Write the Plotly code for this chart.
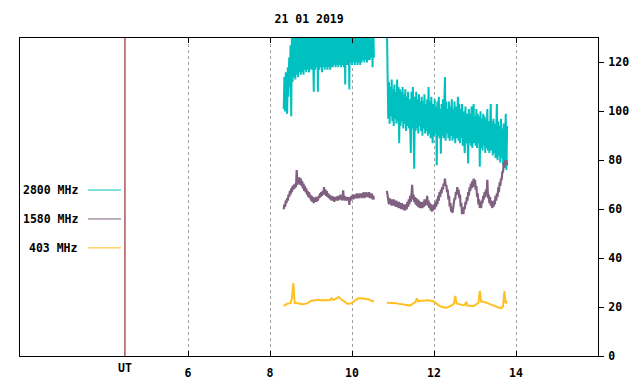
import plotly.graph_objects as go

TITLE = "21 01 2019"
SERIES_NAMES = ["2800 MHz", "1580 MHz", "403 MHz"]
COLORS = ["#00C0C0", "#806080", "#FFC020"]

# sampling: minutes of day (UT); two observing segments
SEG1_START_MIN = 500
SEG2_START_MIN = 651
STEP_FAST = 1   # minutes (2800, 1580)
STEP_SLOW = 2   # minutes (403)

X_TICKS = [6, 8, 10, 12, 14]
UT_POS = 4.46
X_RANGE = [1.9, 16]
Y_RANGE = [0, 130]
Y_TICKS = [0, 20, 40, 60, 80, 100, 120]

f2800_seg1 = [
    101, 114, 100, 116, 103, 99, 118, 106, 122, 110,
    127, 98, 132, 112, 136, 114, 138, 113, 140, 115,
    137, 114, 141, 116, 139, 115, 142, 116, 138, 115,
    140, 117, 143, 116, 139, 117, 141, 116, 119, 120,
    142, 117, 138, 116, 108, 140, 117, 143, 118, 139,
    108, 141, 117, 138, 118, 142, 116, 140, 118, 137,
    117, 141, 118, 139, 117, 143, 118, 140, 117, 138,
    118, 142, 118, 139, 119, 141, 118, 137, 119, 140,
    118, 143, 119, 139, 118, 141, 119, 138, 118, 140,
    111, 142, 119, 138, 119, 141, 109, 139, 120, 142,
    119, 138, 120, 141, 119, 139, 120, 143, 119, 140,
    120, 137, 119, 141, 120, 139, 121, 142, 120, 138,
    121, 141, 120, 139, 121, 140, 121, 138, 122, 141,
    118, 136, 122,
]
f2800_seg2 = [
    135, 121, 97, 112, 95, 110, 98, 113, 96, 109,
    94, 111, 97, 108, 95, 113, 96, 110, 87, 109,
    94, 108, 96, 110, 93, 107, 95, 109, 92, 106,
    94, 108, 93, 105, 95, 83, 108, 93, 110, 92,
    76.6, 106, 92, 108, 93, 105, 91, 107, 94, 104,
    92, 106, 90, 104, 93, 107, 91, 103, 92, 105,
    90, 110, 91, 104, 89, 106, 92, 87, 103, 90,
    105, 91, 102, 78, 104, 90, 106, 89, 101, 82.7,
    103, 90, 105, 89, 102, 114, 88, 104, 91, 101,
    89, 104, 88, 102, 90, 105, 88, 101, 89, 104,
    87, 102, 89, 100, 106, 88, 103, 87, 101, 89,
    103, 86, 100, 88, 83, 102, 87, 99, 86, 78.7,
    101, 87, 99, 86, 102, 85, 100, 103, 87, 98,
    86, 101, 85, 99, 87, 98, 77.4, 100, 85, 97,
    84, 99, 86, 98, 83, 97, 85, 101, 84, 96,
    83, 98, 103, 84, 96, 82, 97, 83, 95, 81,
    97, 103, 80, 96, 82, 94, 79, 97, 81, 93,
    78, 95, 77, 92, 99, 76, 94,
]

f1580_seg1 = [
    60, 62, 61, 63.5, 62.5, 64.5, 63.5, 66, 65, 67.5,
    66, 68.5, 67, 69.5, 68, 70, 68.5, 70.5, 69, 76,
    70, 72, 70.5, 73, 70, 72.5, 69.5, 71.5, 68.5, 70.5,
    67.5, 69.5, 67, 68.5, 66, 67.5, 65, 67, 64.5, 66,
    63.5, 65.5, 63, 65, 62.5, 64.5, 63, 65, 63, 64.5,
    63.5, 65.5, 64.5, 66.5, 65, 67, 65.5, 67.5, 66, 69,
    66, 68, 65.5, 67.5, 65, 66.5, 64.5, 66, 64, 65.5,
    63.5, 65.5, 63.5, 65, 63, 65, 63.5, 65, 63.5, 65.5,
    63.5, 65.5, 64, 66, 64, 65.5, 63.5, 67.7, 64, 65.5,
    63.5, 65, 63.5, 65, 63.5, 65, 61.8, 65, 63.5, 65.5,
    64, 66, 64, 66, 64.5, 66, 64.5, 66.5, 64.5, 66,
    64.5, 66.5, 65, 66.5, 64.5, 66.5, 65, 67, 64.5, 66.5,
    65, 67, 65, 66.5, 65, 67, 64.5, 66.5, 64.5, 66.5,
    64, 65.5, 64,
]
f1580_seg2 = [
    67.5, 65, 64.5, 62, 64.5, 62, 64, 61.5, 64, 61.5,
    64, 61.5, 63.5, 61, 63.5, 61, 63, 60.5, 63, 60.5,
    62.5, 60, 62.5, 60, 62, 59.5, 62, 59.5, 62, 60,
    63, 61, 64, 62, 65.5, 63, 66, 70, 64, 66,
    63, 65, 62, 64.5, 61.5, 64, 61, 63.5, 60.5, 63,
    60.5, 63, 60.5, 63, 61, 64, 61.5, 64, 62, 65.5,
    61.5, 63.5, 60.5, 62.5, 59.5, 62, 59, 61.5, 59.5, 62,
    60, 63, 61, 64, 62, 65.5, 63.5, 67, 65, 68,
    66.5, 69, 68, 70.5, 70, 72.5, 69.5, 70, 67, 68,
    64, 65.5, 61, 62.5, 59, 61, 58.5, 61.5, 62, 64.5,
    64, 67, 66, 69, 66, 68, 64.5, 66, 61, 62.5,
    58, 60.5, 58, 61, 60, 63, 62, 65, 63.5, 67,
    65.5, 69, 67.5, 70.5, 68.5, 71.5, 69, 72.5, 70, 72,
    68, 69.5, 65, 66.5, 62, 64, 60.5, 63, 60.5, 63.5,
    62.5, 65.5, 64, 67, 65, 68, 66, 72, 64.5, 66,
    62.5, 65, 61.5, 63.5, 60.5, 63, 61, 63.5, 62, 65.5,
    63.5, 66.5, 65, 69, 67, 71, 69.5, 72.5, 72, 75.5,
    75, 79, 77, 80, 78.5, 80, 78,
]

f403_seg1 = [
    20.5, 21, 21.2, 21.5, 21.6, 21.6, 23.7, 29.8, 21.6, 21.8,
    21.6, 21.6, 21.5, 21.3, 21.2, 21.2, 21.3, 21.5, 21.8, 22.3,
    22.5, 22.7, 22.6, 22.8, 22.9, 23, 22.9, 22.8, 22.9, 22.8,
    22.8, 22.9, 22.8, 22.8, 22.9, 23.6, 23, 23.1, 23.3, 23.6,
    24.2, 23.5, 23.2, 22.8, 22.3, 22, 21.6, 21.3, 21.3, 21.5,
    21.8, 22.3, 22.7, 23.1, 23.4, 23.6, 23.7, 23.6, 23.5, 23.4,
    23.6, 23.5, 23.3, 23, 22.6, 22.3, 22.5,
]
f403_seg2 = [
    21.8, 21.8, 21.9, 21.8, 21.8, 21.7, 21.8, 21.6, 21.4, 21.3,
    21.2, 21.3, 21.2, 21, 20.8, 20.7, 20.6, 20.6, 21, 21.5,
    21.9, 22.1, 23.6, 22.3, 22.5, 22.6, 22.7, 22.8, 22.7, 22.7,
    22.8, 22.7, 22.7, 22.6, 22.4, 22, 21.5, 21, 20.6, 20.3,
    20.1, 19.9, 19.7, 19.7, 19.8, 20, 20.2, 20.5, 20.9, 21.3,
    24.6, 21.5, 21.3, 21.1, 20.9, 20.8, 20.7, 20.7, 22.2, 20.6,
    20.5, 20.3, 20.2, 20.3, 20.6, 21, 21.4, 21.7, 26.6, 22.2,
    22.3, 22.2, 22, 21.8, 21.5, 21.3, 21, 20.8, 20.5, 20.2,
    20, 19.8, 19.6, 19.5, 19.7, 20.2, 26.5, 21.5, 22.5,
]


def series(seg1, seg2, step):
    xs = [(SEG1_START_MIN + i * step) / 60 for i in range(len(seg1))]
    xs += [None]
    xs += [(SEG2_START_MIN + i * step) / 60 for i in range(len(seg2))]
    ys = list(seg1) + [None] + list(seg2)
    return xs, ys


FONT = dict(family="DejaVu Sans Mono", size=11.5, color="black", weight="bold")

fig = go.Figure()
data = [
    (f2800_seg1, f2800_seg2, STEP_FAST, 2),
    (f1580_seg1, f1580_seg2, STEP_FAST, 2.2),
    (f403_seg1, f403_seg2, STEP_SLOW, 2),
]
for (s1, s2, st, w), name, col in zip(data, SERIES_NAMES, COLORS):
    xs, ys = series(s1, s2, st)
    fig.add_trace(go.Scatter(x=xs, y=ys, mode="lines", name=name,
                             line=dict(color=col, width=w), showlegend=False,
                             connectgaps=False))

# UT marker line
fig.add_shape(type="line", xref="x", yref="paper", x0=UT_POS, x1=UT_POS, y0=0, y1=1,
              line=dict(color="#800000", width=1))
fig.add_annotation(x=UT_POS, xref="x", y=0, yref="paper", yanchor="top", yshift=-3,
                   text="UT", showarrow=False, font=FONT)

# legend (left, inside plot)
leg_y = [0.522, 0.431, 0.340]
for name, col, yy in zip(SERIES_NAMES, COLORS, leg_y):
    fig.add_annotation(x=0.1045, xref="paper", y=yy, yref="paper", xanchor="right",
                       yanchor="middle", text=name, showarrow=False, font=FONT)
    fig.add_shape(type="line", xref="paper", yref="paper", x0=0.1176, x1=0.1747,
                  y0=yy, y1=yy, line=dict(color=col, width=1))

fig.update_layout(
    width=640, height=384,
    margin=dict(l=20, r=42, t=38, b=28, autoexpand=False),
    paper_bgcolor="white", plot_bgcolor="white",
    title=dict(text=TITLE, x=0.483, xanchor="center",
               y=1 - 19 / 384, yanchor="middle", font=FONT),
    font=FONT,
)
fig.update_xaxes(range=X_RANGE, tickvals=X_TICKS, ticktext=[str(v) for v in X_TICKS],
                 ticks="inside", ticklen=5, tickcolor="black", mirror="ticks",
                 showline=True, linecolor="black", linewidth=1,
                 showgrid=True, gridcolor="#A0A0A0", griddash="dot", gridwidth=1,
                 zeroline=False, ticklabelstandoff=6, tickfont=FONT, automargin=False)
fig.update_yaxes(range=Y_RANGE, tickvals=Y_TICKS, side="right",
                 ticks="outside", ticklen=5, tickcolor="black", mirror=True,
                 showline=True, linecolor="black", linewidth=1,
                 showgrid=False, zeroline=False, tickfont=FONT, ticklabelstandoff=2,
                 automargin=False)

fig.write_html("out.html", config={"displayModeBar": False},
               post_script="document.body.style.margin='0';")
